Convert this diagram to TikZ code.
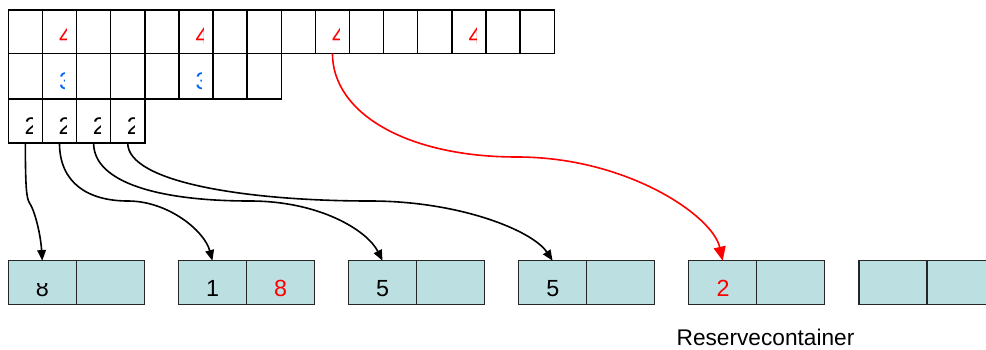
\documentclass[tikz,border=0pt]{standalone}
\usepackage{fontspec}
\setmainfont{Liberation Sans}
\usetikzlibrary{arrows.meta}
\definecolor{cellfill}{HTML}{BCDFE2}
\definecolor{dblue}{HTML}{0066FF}
\begin{document}
\begin{tikzpicture}[x=0.75pt,y=-0.75pt,
  gcell/.style={draw=black,line width=1.1pt,minimum width=25.6pt,inner sep=0pt,outer sep=0pt,anchor=north west},
  bcell/.style={draw=black!85,fill=cellfill,line width=1.1pt,minimum width=51pt,minimum height=32.7pt,inner sep=0pt,outer sep=0pt,anchor=north west},
  dig/.style={font=\fontsize{18pt}{18pt}\selectfont,inner sep=0pt,anchor=base west},
  bnum/.style={font=\fontsize{17.5pt}{18pt}\selectfont,inner sep=0pt,anchor=base},
  link/.style={line width=1.2pt,-{Triangle[length=8pt,width=6.5pt]}},
  redlink/.style={line width=1.2pt,red,-{Triangle[length=10.5pt,width=9pt]}}]
\clip (0,0) rectangle (986,350);
% grid rows
\foreach \i in {1,...,16}
  \node[gcell,minimum height=32.5pt] (ra\i) at ({8.3+34.12*(\i-1)},10) {};
\foreach \i in {1,...,8}
  \node[gcell,minimum height=34.3pt] (rb\i) at ({8.3+34.12*(\i-1)},53.3) {};
\foreach \i in {1,...,4}
  \node[gcell,minimum height=33pt] (rc\i) at ({8.3+34.12*(\i-1)},99) {};
% clipped digits, row 1
\foreach \i in {2,6,10,14}{
  \begin{scope}
    \clip ({8.3+34.12*(\i-1)},10) rectangle ({8.3+34.12*(\i-1)+24.5},53.3);
    \node[dig,red] (da\i) at ({8.3+34.12*(\i-1)+16.5},44) {4};
  \end{scope}}
% row 2
\foreach \i in {2,6}{
  \begin{scope}
    \clip ({8.3+34.12*(\i-1)},53.3) rectangle ({8.3+34.12*(\i-1)+22.5},99);
    \node[dig,dblue] (db\i) at ({8.3+34.12*(\i-1)+16.5},89) {3};
  \end{scope}}
% row 3
\foreach \i in {1,...,4}{
  \begin{scope}
    \clip ({8.3+34.12*(\i-1)},99) rectangle ({8.3+34.12*(\i-1)+24},143);
    \node[dig] (dc\i) at ({8.3+34.12*(\i-1)+16},134) {2};
  \end{scope}}
% bottom containers
\foreach \k in {1,...,6}{
  \node[bcell] (bl\k) at ({8.3+170.1*(\k-1)},260.7) {};
  \node[bcell] (br\k) at ({76.3+170.1*(\k-1)},260.7) {};}
\begin{scope}
  \clip (8,283.5) rectangle (145,305);
  \node[bnum] (n1) at (42.3,296) {8};
\end{scope}
\node[bnum] (n2) at (212.5,296) {1};
\node[bnum,red] (n3) at (280.6,296) {8};
\node[bnum] (n4) at (382.7,296) {5};
\node[bnum] (n5) at (552.8,296) {5};
\node[bnum,red] (n6) at (723,296) {2};
\node[font=\fontsize{17pt}{19pt}\selectfont,anchor=base,inner sep=0pt] (res) at (765.5,345) {Reservecontainer};
% connectors
\coordinate (m1) at (29.5,203);
\coordinate (m2) at (128,201);
\coordinate (m3) at (250,201);
\coordinate (m4) at (370,201);
\coordinate (mr) at (517,157);
\draw[link] (rc1.south) .. controls +(0,45) and +(-3,-5) .. (m1) .. controls +(4,5) and +(-2,-30) .. (bl1.north);
\draw[link] (rc2.south) .. controls +(0,40) and +(-40,0) .. (m2) .. controls +(40,0) and +(-8,-30) .. (bl2.north);
\draw[link] (rc3.south) .. controls +(0,40) and +(-90,0) .. (m3) .. controls +(70,0) and +(-15,-30) .. (bl3.north);
\draw[link] (rc4.south) .. controls +(0,40) and +(-120,0) .. (m4) .. controls +(90,0) and +(-20,-30) .. (bl4.north);
\draw[redlink] (ra10.south) .. controls +(0,60) and +(-110,0) .. (mr) .. controls +(110,0) and +(-10,-45) .. (bl5.north);
\end{tikzpicture}
\end{document}
